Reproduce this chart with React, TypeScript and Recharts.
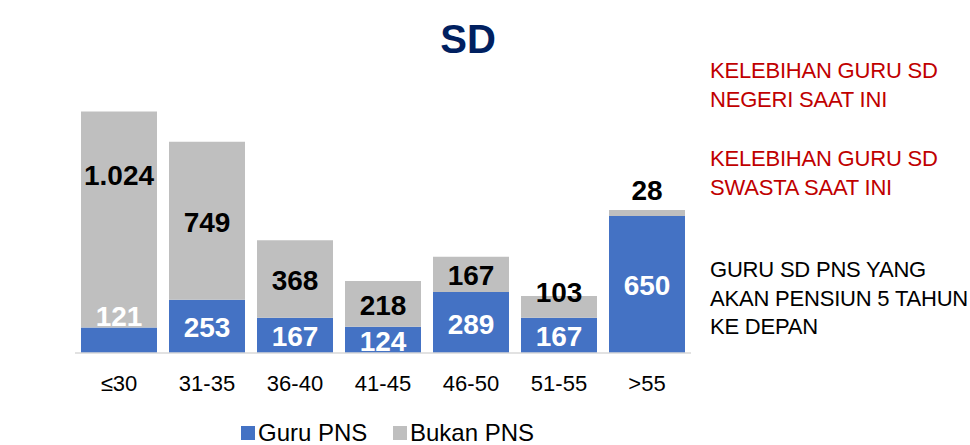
import React from 'react';
import { BarChart, Bar, XAxis, YAxis, LabelList, Legend } from 'recharts';

const categories = ['≤30', '31-35', '36-40', '41-45', '46-50', '51-55', '>55'];
const guruPns = [121, 253, 167, 124, 289, 167, 650];
const bukanPns = [1024, 749, 368, 218, 167, 103, 28];
const seriesNames = ['Guru PNS', 'Bukan PNS'];
const titleText = 'SD';
const noteNegeri = ['KELEBIHAN GURU SD', 'NEGERI SAAT INI'];
const noteSwasta = ['KELEBIHAN GURU SD', 'SWASTA SAAT INI'];
const notePensiun = ['GURU SD PNS YANG', 'AKAN PENSIUN 5 TAHUN', 'KE DEPAN'];

const data = categories.map((c, i) => ({ cat: c, pns: guruPns[i], bukan: bukanPns[i] }));

const BLUE = '#4472C4';
const GRAY = '#BFBFBF';
const RED = '#C00000';
const NAVY = '#002060';
const FONT = '"Liberation Sans", Arial, sans-serif';

const fmt = (n: number) => String(n).replace(/\B(?=(\d{3})+(?!\d))/g, '.');

// manual label nudges (styling only), matching the hand-placed labels of the original
const pnsShift: Record<number, number> = { 0: -25 };
const bukanShift: Record<number, number> = { 0: -46, 5: -16, 6: -24 };

const makeLabel = (color: string, shifts: Record<number, number>) => (props: any) => {
  const { x, y, width, height, value, index } = props;
  const h = Math.abs(Number(height));
  const top = Math.min(Number(y), Number(y) + Number(height));
  const cy = top + h / 2 + (shifts[index] || 0);
  return (
    <text
      x={Number(x) + Number(width) / 2}
      y={cy + 11}
      textAnchor="middle"
      fill={color}
      fontFamily={FONT}
      fontWeight="bold"
      fontSize={28}
    >
      {fmt(Number(value))}
    </text>
  );
};

const Tick = (props: any) => {
  const { x, y, payload } = props;
  return (
    <text x={x} y={Number(y) + 38} textAnchor="middle" fill="#000" fontFamily={FONT} fontSize={22}>
      {payload.value}
    </text>
  );
};

const LegendContent = () => (
  <div style={{ position: 'relative', width: 970, height: 0 }}>
    {[BLUE, GRAY].map((c, i) => (
      <div
        key={i}
        style={{
          position: 'absolute',
          left: i === 0 ? 241 : 393,
          top: -1,
          display: 'flex',
          alignItems: 'center',
          fontFamily: FONT,
          fontSize: 24,
          color: '#000',
          whiteSpace: 'nowrap',
          lineHeight: '28px',
        }}
      >
        <span style={{ display: 'inline-block', width: 14, height: 14, background: c, marginRight: 3 }} />
        <span>{seriesNames[i]}</span>
      </div>
    ))}
  </div>
);

const NoteBlock = ({ lines, top, color }: { lines: string[]; top: number; color: string }) => (
  <>
    {lines.map((l, i) => (
      <text key={i} x={710} y={top + i * 28.5} fill={color} fontFamily={FONT} fontSize={22} letterSpacing={-0.2}>
        {l}
      </text>
    ))}
  </>
);

export default function App() {
  return (
    <div style={{ position: 'absolute', left: 0, top: 0, width: 970, height: 445, background: '#fff', overflow: 'hidden' }}>
      <BarChart
        width={970}
        height={445}
        data={data}
        margin={{ top: 100, right: 279, left: 75, bottom: 62 }}
      >
        <XAxis
          dataKey="cat"
          axisLine={{ stroke: '#D9D9D9', strokeWidth: 1.5 }}
          tickLine={false}
          tickSize={0}
          tickMargin={0}
          height={30}
          tick={<Tick />}
          interval={0}
        />
        <YAxis hide domain={[0, 1200]} />
        <Legend
          content={<LegendContent />}
          wrapperStyle={{ position: 'absolute', left: 0, top: 420, width: 970, height: 0 }}
        />
        <Bar dataKey="pns" name={seriesNames[0]} stackId="a" fill={BLUE} barSize={76} isAnimationActive={false}>
          <LabelList dataKey="pns" content={makeLabel('#FFFFFF', pnsShift)} />
        </Bar>
        <Bar dataKey="bukan" name={seriesNames[1]} stackId="a" fill={GRAY} barSize={76} isAnimationActive={false}>
          <LabelList dataKey="bukan" content={makeLabel('#000000', bukanShift)} />
        </Bar>
      </BarChart>
      <svg width={970} height={445} style={{ position: 'absolute', left: 0, top: 0, pointerEvents: 'none' }}>
        <text x={468} y={53} textAnchor="middle" fill={NAVY} fontFamily={FONT} fontWeight="bold" fontSize={40}>
          {titleText}
        </text>
        <NoteBlock lines={noteNegeri} top={78} color={RED} />
        <NoteBlock lines={noteSwasta} top={166} color={RED} />
        <NoteBlock lines={notePensiun} top={277} color="#000" />
      </svg>
    </div>
  );
}
